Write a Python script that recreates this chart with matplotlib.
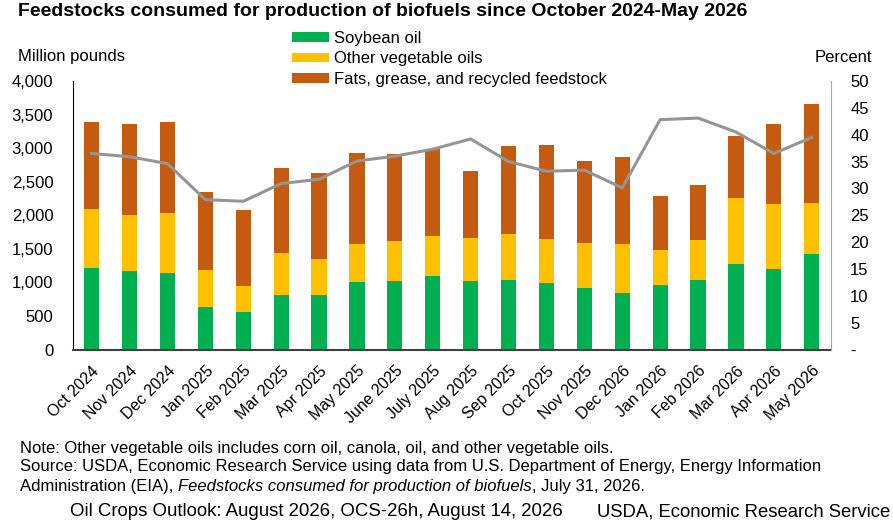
import matplotlib
matplotlib.use("Agg")
import matplotlib.pyplot as plt
from matplotlib.ticker import FuncFormatter, MultipleLocator
import numpy as np

plt.rcParams['font.family'] = ['Liberation Sans', 'DejaVu Sans']

months = ["Oct 2024", "Nov 2024", "Dec 2024", "Jan 2025", "Feb 2025", "Mar 2025",
          "Apr 2025", "May 2025", "June 2025", "July 2025", "Aug 2025", "Sep 2025",
          "Oct 2025", "Nov 2025", "Dec 2026", "Jan 2026", "Feb 2026", "Mar 2026",
          "Apr 2026", "May 2026"]

soybean = [1217, 1176, 1146, 631, 556, 811, 811, 1006, 1021, 1092,
           1021, 1036, 991, 911, 841, 961, 1036, 1267, 1206, 1416]
other_veg = [881, 822, 892, 560, 385, 626, 531, 571, 597, 595,
             646, 687, 661, 676, 731, 516, 601, 991, 957, 762]
fats = [1292, 1356, 1346, 1152, 1142, 1267, 1282, 1357, 1301, 1307,
        992, 1307, 1393, 1222, 1297, 811, 816, 926, 1197, 1472]
percent = [36.5, 35.9, 34.6, 27.9, 27.6, 30.9, 31.7, 35.1, 36.0, 37.3,
           39.2, 35.0, 33.2, 33.4, 30.1, 42.8, 43.1, 40.5, 36.5, 39.5]

labels = ["Soybean oil", "Other vegetable oils", "Fats, grease, and recycled feedstock"]
colors = ["#00B050", "#FFC000", "#C55A11"]
line_color = "#959595"

W, H = 893, 529
fig = plt.figure(figsize=(W / 100, H / 100), dpi=100)
ax = fig.add_axes([72.7 / W, 1 - 349.5 / H, (830.7 - 72.7) / W, (349.5 - 81) / H])

x = np.arange(len(months))
bw = 0.4
b1 = ax.bar(x, soybean, bw, color=colors[0], label=labels[0])
b2 = ax.bar(x, other_veg, bw, bottom=soybean, color=colors[1], label=labels[1])
bottom2 = np.array(soybean) + np.array(other_veg)
b3 = ax.bar(x, fats, bw, bottom=bottom2, color=colors[2], label=labels[2])

ax.set_xlim(-0.5, len(months) - 0.5)
ax.set_ylim(0, 4000)
ax.yaxis.set_major_locator(MultipleLocator(500))
ax.yaxis.set_major_formatter(FuncFormatter(lambda v, p: f"{int(v):,}"))
ax.set_xticks(x)
ax.set_xticklabels(months, rotation=45, ha="right", rotation_mode="anchor")
ax.tick_params(axis="x", length=0, pad=10, labelsize=11.5)
ax.tick_params(axis="y", length=0, pad=14, labelsize=12)
for s in ["top", "right"]:
    ax.spines[s].set_visible(False)
ax.spines["left"].set_color("black")
ax.spines["bottom"].set_color("#404040")
ax.spines["bottom"].set_linewidth(1.5)

ax2 = ax.twinx()
ax2.plot(x, percent, color=line_color, lw=2.2, zorder=5)
ax2.set_ylim(0, 50)
ax2.yaxis.set_major_locator(MultipleLocator(5))
ax2.yaxis.set_major_formatter(FuncFormatter(lambda v, p: "-" if abs(v) < 1e-9 else f"{int(v)}"))
ax2.tick_params(axis="y", length=0, pad=14, labelsize=12)
for s in ["top", "left", "bottom"]:
    ax2.spines[s].set_visible(False)
ax2.spines["right"].set_color("#A6A6A6")

leg = fig.legend(handles=[b1, b2, b3], labels=labels, loc="upper left",
                 bbox_to_anchor=(292 / W, 1 - 31 / H), frameon=False, fontsize=12,
                 handlelength=2.2, handleheight=0.5, handletextpad=0.3,
                 labelspacing=0.32, borderaxespad=0, borderpad=0)

fig.text(18 / W, 1 - 11 / H, "Feedstocks consumed for production of biofuels since October 2024-May 2026",
         fontsize=14, fontweight="bold", ha="left", va="center")
fig.text(18 / W, 1 - 56 / H, "Million pounds", fontsize=12, ha="left", va="center")
fig.text(872 / W, 1 - 58 / H, "Percent", fontsize=12, ha="right", va="center")

fs = 12
fig.text(20 / W, 1 - 448 / H, "Note: Other vegetable oils includes corn oil, canola, oil, and other vegetable oils.",
         fontsize=fs, ha="left", va="center")
fig.text(20 / W, 1 - 467 / H, "Source: USDA, Economic Research Service using data from U.S. Department of Energy, Energy Information",
         fontsize=fs, ha="left", va="center")

fig.canvas.draw()
renderer = fig.canvas.get_renderer()
xpos = 20
parts = [("Administration (EIA), ", "normal"),
         ("Feedstocks consumed for production of biofuels", "italic"),
         (", July 31, 2026.", "normal")]
for txt, style in parts:
    t = fig.text(xpos / W, 1 - 487 / H, txt, fontsize=fs, style=style, ha="left", va="center")
    bb = t.get_window_extent(renderer=renderer)
    xpos += bb.width

fig.text(70 / W, 1 - 511 / H, "Oil Crops Outlook: August 2026, OCS-26h, August 14, 2026",
         fontsize=13.4, ha="left", va="center")
fig.text(597 / W, 1 - 512 / H, "USDA, Economic Research Service",
         fontsize=13.3, ha="left", va="center")

fig.savefig("out.png", dpi=100)
